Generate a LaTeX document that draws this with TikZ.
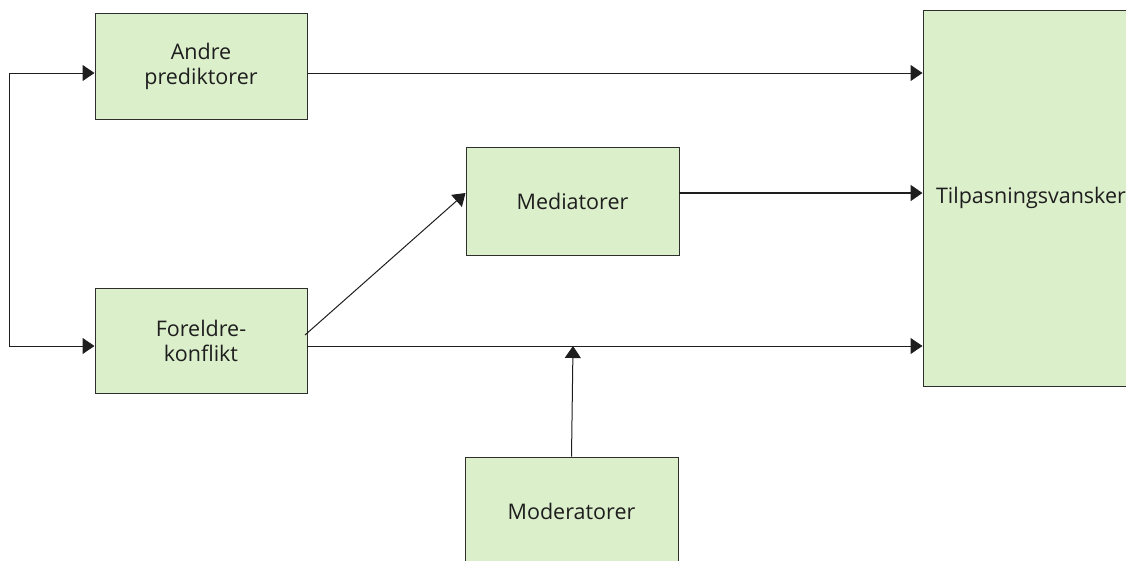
\documentclass[tikz,border=0pt]{standalone}
\usepackage{fontspec}
\setmainfont{Open Sans}
\usetikzlibrary{arrows.meta}
\definecolor{boxfill}{HTML}{DCEFCB}
\definecolor{boxline}{HTML}{2E2E2E}
\definecolor{txt}{HTML}{1E1E1E}
\tikzset{
  blk/.style={draw=boxline, line width=1pt, fill=boxfill, inner sep=0pt, align=center,
    font=\fontsize{21.5}{25}\selectfont, text=txt},
  arr/.style={line width=1pt, draw=txt, -{Triangle[length=12pt,width=16pt]}},
  ln/.style={line width=1pt, draw=txt},
}
\begin{document}
\begin{tikzpicture}[x=1pt,y=-1pt]
\useasboundingbox (0,0) rectangle (1126,560);
\clip (0,0) rectangle (1126,560);
\node[blk, minimum width=212pt, minimum height=106pt] (A) at (201,66) {Andre\\prediktorer};
\node[blk, minimum width=212pt, minimum height=105pt] (F) at (201,340.5) {Foreldre-\\konflikt};
\node[blk, minimum width=213pt, minimum height=108pt] (M) at (572.5,201) {Mediatorer};
\node[blk, minimum width=213pt, minimum height=108pt] (D) at (571.5,511) {Moderatorer};
\node[blk, minimum width=216pt, minimum height=376pt, text width=190pt, inner xsep=13pt, align=left] (T) at (1031,198) {\mbox{Tilpasningsvansker}};
% connectors
\coordinate (la) at (9,73);
\coordinate (lf) at (9,346);
\coordinate (fe) at (307,346);
\coordinate (fd) at (305,335);
\coordinate (me) at (679,193);
\coordinate (dj) at (573,346);
\draw[ln] (la) -- (lf);
\draw[arr] (la) -- (la -| A.west);
\draw[arr] (lf) -- (lf -| F.west);
\draw[arr] (la -| A.east) -- (la -| T.west);
\draw[arr, line width=2pt] (me) -- (me -| T.west);
\draw[arr] (fe) -- (fe -| T.west);
\draw[arr] (fd) -- (me -| M.west);
\draw[arr] (D.north) -- (dj);
\end{tikzpicture}
\end{document}
